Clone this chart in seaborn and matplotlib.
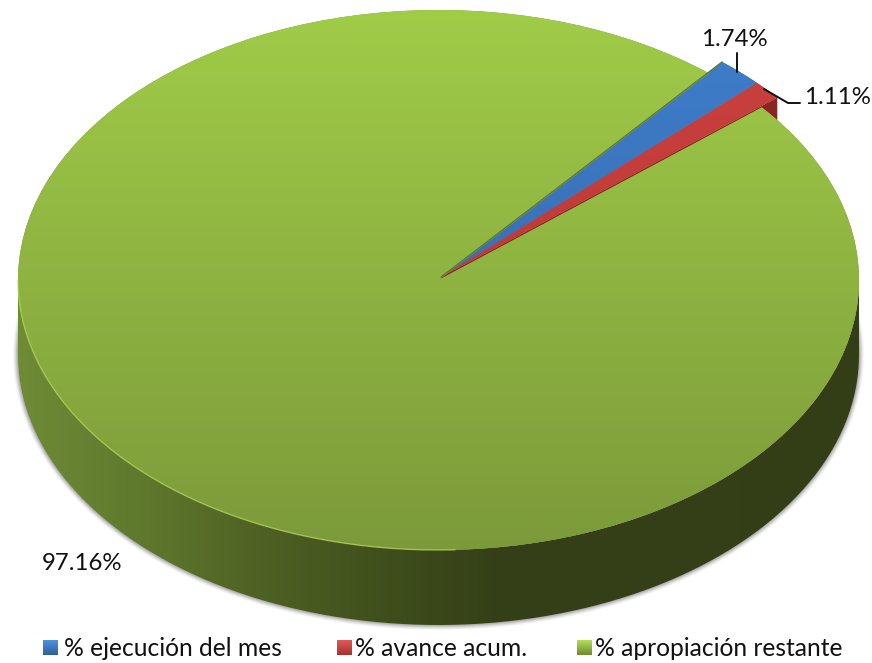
import numpy as np
import matplotlib.pyplot as plt
import matplotlib.path as mpath
from matplotlib.patches import PathPatch, Polygon, Ellipse
import seaborn as sns

# values
categories = ['% ejecución del mes', '% avance acum.', '% apropiación restante']
values = [1.74, 1.11, 97.16]
value_labels = ['1.74%', '1.11%', '97.16%']
top_light = ['#3f80cf', '#cc4240', '#a0cc48']
top_dark = ['#3a70b4', '#bf3b38', '#7c9a3a']
wall_colors = ['#6f8b36', '#5f792d', '#4f6124', '#40501c', '#343f17', '#343f17', '#343f17', '#333e16']

W, H = 872, 663
cx, cy = 438.5, 280.0
rx, ry = 420.5, 270.0
depth = 75 / ry
start = 50


def px(x, y):
    # picture pixels to pie coordinates
    return (x - cx) / rx, (cy - y) / ry


sns.set_theme(style='white')
plt.rcParams['font.family'] = ['Lato', 'DejaVu Sans']

fig = plt.figure(figsize=(W / 100, H / 100), dpi=100)
ax = fig.add_axes([0, 0, 1, 1])

# the two small slices stick out a bit, so they get their own bigger pie
body, _ = ax.pie(values, startangle=start, counterclock=False, radius=1, colors=top_dark,
                 wedgeprops={'zorder': 3, 'edgecolor': 'none', 'linewidth': 0})
pulled, _ = ax.pie(values, startangle=start, counterclock=False, radius=1.04, colors=top_dark,
                   center=(0.006, 0.011), wedgeprops={'zorder': 3, 'edgecolor': 'none', 'linewidth': 0})
body[0].remove()
body[1].remove()
pulled[2].remove()
wedges = [pulled[0], pulled[1], body[2]]

ax.set_aspect('auto')
xmin, ymax = px(0, 0)
xmax, ymin = px(W, H)

# soft shadow on the floor
for grow, alpha in [(5, 0.04), (4, 0.05), (3, 0.07), (2, 0.09), (1, 0.1)]:
    ax.add_patch(Ellipse((0, -depth), 2 + 2 * grow / rx, 2 + 2 * grow / ry, fc='black', ec='none',
                         alpha=alpha, zorder=0))

# side wall
t = np.linspace(np.pi, 2 * np.pi, 200)
xs = np.cos(t)
ys = np.sin(t)
wall_verts = np.r_[np.c_[xs, ys - depth], np.c_[xs[::-1], ys[::-1]]]
wall = PathPatch(mpath.Path(np.r_[wall_verts, wall_verts[:1]]), fc='none', ec='none', zorder=1)
ax.add_patch(wall)
wall_cmap = sns.blend_palette(wall_colors, as_cmap=True)
wall_img = ax.imshow(np.linspace(0, 1, 512)[None, :], cmap=wall_cmap, aspect='auto',
                     extent=[-1, 1, -1 - depth, 0], zorder=1, vmin=0, vmax=1)
wall_img.set_clip_path(wall)

# cut face of the pulled out red slice
red = wedges[1]
a1 = np.deg2rad(red.theta1)
rc = np.array(red.center)
rim = rc + 1.04 * np.array([np.cos(a1), np.sin(a1)])
ax.add_patch(Polygon([rc, rim, rim - [0, depth], rc - [0, depth]], fc='#8a2523', ec='none', zorder=2))

# top faces, vertical gradient clipped to each wedge
for i, (w, c1, c2) in enumerate(zip(wedges, top_light, top_dark)):
    cmap = sns.blend_palette([c2, c1], as_cmap=True)
    if i == 2:
        ext = [-1, 1, -1, 1]
    else:
        ext = [w.center[0], w.center[0] + 1.04, w.center[1], w.center[1] + 1.04]
    img = ax.imshow(np.linspace(0, 1, 256)[:, None], cmap=cmap, aspect='auto', extent=ext, origin='lower',
                    vmin=0, vmax=1, zorder=4)
    img.set_clip_path(w)

# thin dark line where the blue slice sits on the green
blue = wedges[0]
a2 = np.deg2rad(blue.theta2)
bc = np.array(blue.center)
ax.plot([bc[0], bc[0] + 1.04 * np.cos(a2)], [bc[1], bc[1] + 1.04 * np.sin(a2)],
        color='#5f7a30', lw=1.0, zorder=4)

# light rim along the front left edge
front = xs < 0.05
ax.plot(xs[front], ys[front], color='#b0d45c', lw=1.0, alpha=0.75, zorder=5)

ax.axis('off')

# value labels and leader lines
label_pos = [(734.5, 40), (837.5, 97), (82, 564)]
for s, (x, y) in zip(value_labels, label_pos):
    tx, ty = px(x, y)
    ax.text(tx, ty, s, fontsize=17.3, color='#111111', ha='center', va='center', zorder=7)

for pts in [[(737, 53), (737, 72)], [(764, 89), (788, 103), (800, 103)]]:
    lx, ly = zip(*[px(*p) for p in pts])
    ax.plot(lx, ly, color='#111111', lw=1.4, zorder=7)

# legend
key_x = [43, 337, 577]
text_x = [64, 355, 595]
leg_y = 648
key_dark = ['#2f5f9e', '#a83230', '#6f8c30']
key_light = ['#4f93de', '#e05a56', '#b3dc55']
for name, kx, tx_, c1, c2 in zip(categories, key_x, text_x, key_light, key_dark):
    cmap = sns.blend_palette([c1, c2], as_cmap=True)
    x0, y0 = px(kx, leg_y - 8)
    x1, y1 = px(kx + 15, leg_y + 7)
    ax.imshow(np.linspace(0, 1, 32)[:, None], cmap=cmap, aspect='auto', extent=[x0, x1, y1, y0],
              vmin=0, vmax=1, zorder=7)
    lx, ly = px(tx_, leg_y)
    ax.text(lx, ly, name, fontsize=17.7, color='#111111', ha='left', va='center', zorder=7)

ax.set_xlim(xmin, xmax)
ax.set_ylim(ymin, ymax)
fig.savefig('out.png', dpi=100, facecolor='white')
